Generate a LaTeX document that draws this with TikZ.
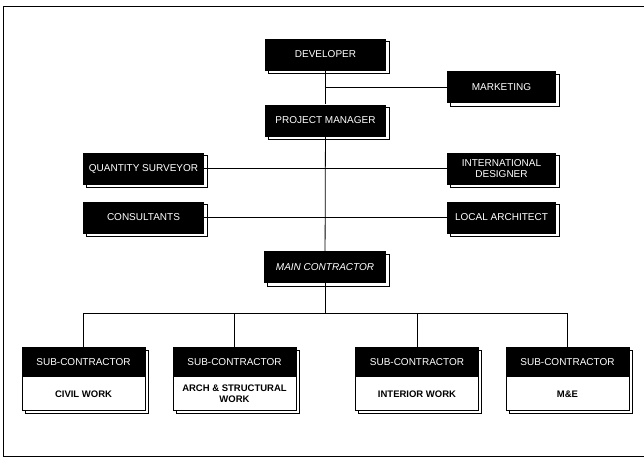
\documentclass[tikz,border=0pt]{standalone}
\usepackage{fontspec}
\setmainfont{Liberation Sans}
\usetikzlibrary{shadows}
\begin{document}
\begin{tikzpicture}[x=1pt,y=-1pt,
  shad/.style={drop shadow={shadow xshift=3pt,shadow yshift=-3pt,fill=white,draw=black,line width=0.5pt,opacity=1}},
  darkbox/.style={shad,fill=black,text=white,inner sep=0pt,minimum height=32pt,
    font=\fontsize{10}{11}\selectfont,align=center},
  subbox/.style={shad,fill=white,draw=black,line width=0.6pt,inner sep=0pt,minimum width=123pt,minimum height=63pt},
  subhead/.style={fill=black,text=white,inner sep=0pt,minimum width=123pt,minimum height=30pt,
    font=\fontsize{10}{11}\selectfont},
  subtext/.style={inner sep=0pt,align=center,font=\fontsize{9.5}{11}\selectfont\bfseries},
  conn/.style={line width=0.8pt,draw=black}]
\useasboundingbox (0,0) rectangle (644,458);
% frame
\draw[line width=0.6pt] (644,6) -- (3.5,6) -- (3.5,456) -- (644,456);
% boxes
\node[darkbox,minimum width=121pt] (dev) at (325.5,54.5) {DEVELOPER};
\node[darkbox,minimum width=109pt] (mkt) at (501.5,87) {MARKETING};
\node[darkbox,minimum width=121pt] (pm) at (325.5,120.5) {PROJECT MANAGER};
\node[darkbox,minimum width=121pt] (qs) at (143.5,168.5) {QUANTITY SURVEYOR};
\node[darkbox,minimum width=109pt] (id) at (501.5,168.5) {INTERNATIONAL\\DESIGNER};
\node[darkbox,minimum width=121pt] (cons) at (143.5,217.5) {CONSULTANTS};
\node[darkbox,minimum width=109pt] (la) at (501.5,217.5) {LOCAL ARCHITECT};
\node[darkbox,minimum width=122pt,font=\fontsize{10}{11}\selectfont\itshape] (mc) at (325,267) {MAIN CONTRACTOR};
% sub-contractors
\foreach \n/\x/\t in {s1/83.5/{CIVIL WORK},s2/234.5/{ARCH \& STRUCTURAL\\WORK},s3/417/{INTERIOR WORK},s4/567.5/{M\&E}}{
  \node[subbox] (\n) at (\x,378.5) {};
  \node[subhead,anchor=north] (\n h) at (\n.north) {SUB-CONTRACTOR};
  \node[subtext] (\n t) at (\x,394) {\t};
}
% connectors
\draw[conn] (dev) -- (pm);
\draw[conn] (pm) -- (mc);
\draw[conn] (mkt.west) -- (mkt.west -| dev.south);
\draw[conn] (qs.east) -- (id.west);
\draw[conn] (cons.east) -- (la.west);
\coordinate (bus) at (325,313);
\draw[conn] (mc.south) -- (bus);
\draw[conn] (s1.north) -- (s1.north |- bus) -- (s4.north |- bus) -- (s4.north);
\draw[conn] (s2.north) -- (s2.north |- bus);
\draw[conn] (s3.north) -- (s3.north |- bus);
\end{tikzpicture}
\end{document}
